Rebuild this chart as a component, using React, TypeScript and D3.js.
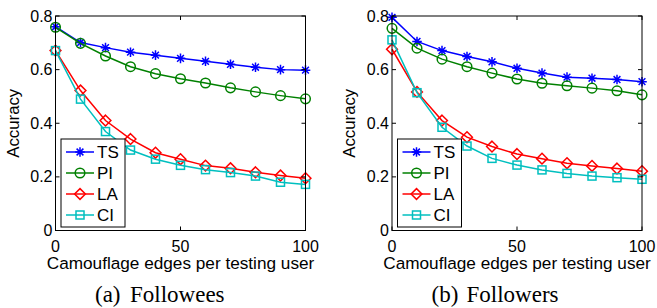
import React from "react";
import * as d3 from "d3";

const xs = [0, 10, 20, 30, 40, 50, 60, 70, 80, 90, 100];
const seriesNames = ["TS", "PI", "LA", "CI"];
const seriesColors = ["#0000ff", "#008000", "#ff0000", "#00bfbf"];
const markerTypes = ["star", "circle", "diamond", "square"];

const followeesTS = [0.760, 0.701, 0.682, 0.665, 0.654, 0.642, 0.631, 0.620, 0.609, 0.600, 0.598];
const followeesPI = [0.758, 0.698, 0.651, 0.611, 0.585, 0.566, 0.550, 0.532, 0.517, 0.503, 0.491];
const followeesLA = [0.671, 0.522, 0.410, 0.341, 0.290, 0.266, 0.242, 0.232, 0.217, 0.205, 0.195];
const followeesCI = [0.671, 0.490, 0.369, 0.300, 0.266, 0.243, 0.227, 0.216, 0.203, 0.180, 0.172];

const followersTS = [0.795, 0.705, 0.671, 0.649, 0.629, 0.605, 0.587, 0.572, 0.568, 0.563, 0.555];
const followersPI = [0.754, 0.680, 0.639, 0.611, 0.587, 0.565, 0.549, 0.540, 0.531, 0.521, 0.506];
const followersLA = [0.676, 0.517, 0.410, 0.348, 0.313, 0.285, 0.268, 0.251, 0.241, 0.231, 0.221];
const followersCI = [0.711, 0.514, 0.385, 0.315, 0.269, 0.244, 0.226, 0.213, 0.203, 0.197, 0.191];

const xTicks = [0, 50, 100];
const yTicks = [0, 0.2, 0.4, 0.6, 0.8];
const xLabel = "Camouflage edges per testing user";
const yLabel = "Accuracy";
const captionTags = ["(a)", "(b)"];
const captionNames = ["Followees", "Followers"];

const sans = "'Liberation Sans', Arial, Helvetica, sans-serif";
const serif = "'Liberation Serif', 'Times New Roman', serif";

function Marker({ type, x, y, color }: { type: string; x: number; y: number; color: string }) {
  const sw = 1.5;
  if (type === "circle") return <circle cx={x} cy={y} r={4.8} fill="none" stroke={color} strokeWidth={sw} />;
  if (type === "square") return <rect x={x - 4} y={y - 4} width={8} height={8} fill="none" stroke={color} strokeWidth={sw} />;
  if (type === "diamond") {
    const r = 5.4;
    return <path d={`M${x},${y - r}L${x + r},${y}L${x},${y + r}L${x - r},${y}Z`} fill="none" stroke={color} strokeWidth={sw} />;
  }
  const r = 4.8;
  const d = r * 0.707;
  return (
    <path
      d={`M${x - r},${y}L${x + r},${y}M${x},${y - r}L${x},${y + r}M${x - d},${y - d}L${x + d},${y + d}M${x - d},${y + d}L${x + d},${y - d}`}
      stroke={color}
      strokeWidth={sw}
      fill="none"
    />
  );
}

function Panel({ left, right, data, idx }: { left: number; right: number; data: number[][]; idx: number }) {
  const top = 16;
  const bottom = 230.5;
  const x = d3.scaleLinear().domain([0, 100]).range([left, right]);
  const y = d3.scaleLinear().domain([0, 0.8]).range([bottom, top]);
  const line = d3
    .line<number>()
    .x((_, i) => x(xs[i]))
    .y((v) => y(v));
  const tl = 4;
  const legX = left + 5.5;
  const legY = 139;
  const legW = 64;
  const legH = 88;
  const cx = (left + right) / 2;
  return (
    <g>
      {data.map((vals, si) => (
        <g key={si}>
          <path d={line(vals) || ""} fill="none" stroke={seriesColors[si]} strokeWidth={1.5} />
          {vals.map((v, i) => (
            <Marker key={i} type={markerTypes[si]} x={x(xs[i])} y={y(v)} color={seriesColors[si]} />
          ))}
        </g>
      ))}
      <rect x={left} y={top} width={right - left} height={bottom - top} fill="none" stroke="#000" strokeWidth={1} />
      {xTicks.map((t) => (
        <g key={t}>
          <line x1={x(t)} x2={x(t)} y1={bottom} y2={bottom - tl} stroke="#000" />
          <line x1={x(t)} x2={x(t)} y1={top} y2={top + tl} stroke="#000" />
          <text x={x(t)} y={bottom + 21} textAnchor="middle" fontFamily={sans} fontSize={16} fill="#000">
            {t}
          </text>
        </g>
      ))}
      {yTicks.map((t) => (
        <g key={t}>
          <line x1={left} x2={left + tl} y1={y(t)} y2={y(t)} stroke="#000" />
          <line x1={right} x2={right - tl} y1={y(t)} y2={y(t)} stroke="#000" />
          <text x={left - 3} y={y(t) + 5.5} textAnchor="end" fontFamily={sans} fontSize={16} fill="#000">
            {t === 0 ? "0" : t.toFixed(1)}
          </text>
        </g>
      ))}
      <text x={cx} y={269} textAnchor="middle" fontFamily={sans} fontSize={17.2} fill="#000">
        {xLabel}
      </text>
      <text
        transform={`translate(${left - 37},${(top + bottom) / 2}) rotate(-90)`}
        textAnchor="middle"
        fontFamily={sans}
        fontSize={16.8}
        fill="#000"
      >
        {yLabel}
      </text>
      <text x={cx - 85.5} y={302} fontFamily={serif} fontSize={23} fill="#000">
        {captionTags[idx]}
      </text>
      <text x={cx - 50.5} y={302} fontFamily={serif} fontSize={23} fill="#000">
        {captionNames[idx]}
      </text>
      <rect x={legX} y={legY} width={legW} height={legH} fill="#fff" stroke="#000" strokeWidth={1} />
      {seriesNames.map((n, i) => {
        const ly = legY + 13 + i * 21;
        return (
          <g key={n}>
            <line x1={legX + 5} x2={legX + 33} y1={ly} y2={ly} stroke={seriesColors[i]} strokeWidth={1.5} />
            <Marker type={markerTypes[i]} x={legX + 19} y={ly} color={seriesColors[i]} />
            <text x={legX + 36} y={ly + 6} fontFamily={sans} fontSize={17} fill="#000">
              {n}
            </text>
          </g>
        );
      })}
    </g>
  );
}

export default function App() {
  return (
    <svg width={657} height={308} style={{ position: "absolute", left: 0, top: 0, background: "#fff" }}>
      <rect width={657} height={308} fill="#fff" />
      <Panel left={55.5} right={305.5} data={[followeesTS, followeesPI, followeesLA, followeesCI]} idx={0} />
      <Panel left={392} right={642} data={[followersTS, followersPI, followersLA, followersCI]} idx={1} />
    </svg>
  );
}
